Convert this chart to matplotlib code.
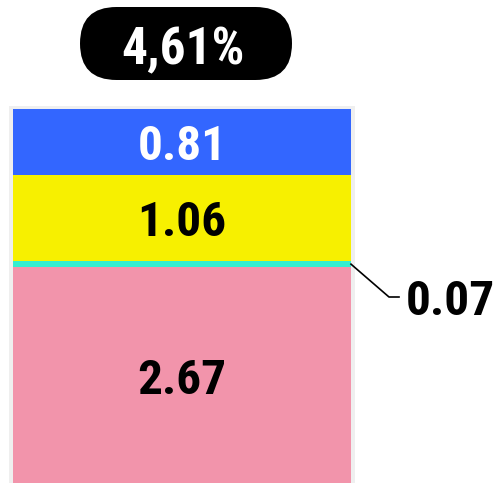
import matplotlib.pyplot as plt
from matplotlib.patches import FancyBboxPatch, Rectangle

# segment values, bottom to top
segments = ['pink', 'cyan', 'yellow', 'blue']
values = [2.67, 0.07, 1.06, 0.81]
colors = ['#f294ab', '#33eed0', '#f7f000', '#3366ff']
label_colors = ['black', None, 'black', 'white']
total_label = '4,61%'
outside_label = '0.07'

plt.rcParams['font.family'] = ['Roboto Condensed', 'DejaVu Sans']
plt.rcParams['font.stretch'] = 'condensed'

W, H = 494, 483
fig = plt.figure(figsize=(W / 100, H / 100), dpi=100)
ax = fig.add_axes([0, 0, 1, 1])
y_top = 5.94
ppu = H / (y_top - 0.025)  # pixels per unit
ax.set_xlim(0, W)
ax.set_ylim(0.025, y_top)
ax.axis('off')


def py(p):
    # pixel row from the top -> data y
    return y_top - p / ppu


x_center, width = 182, 338
total = sum(values)
half_cap = 18 / ppu  # half the digit height, to put labels on a baseline

# soft shadow behind the bar
ax.add_patch(Rectangle((x_center - width / 2 - 4, -0.1), width + 8, total + 0.1 + 3 / ppu,
                       facecolor='#efefef', edgecolor='none', zorder=0))

txt = dict(fontsize=35.5, fontweight='bold')
bottom = 0
for val, col, lc in zip(values, colors, label_colors):
    ax.bar(x_center, val, width=width, bottom=bottom, color=col, zorder=2)
    if lc is not None:
        ax.text(x_center, bottom + val / 2 - half_cap, f'{val:.2f}', color=lc,
                ha='center', va='baseline', zorder=3, **txt)
    bottom += val

# leader line for the thin segment
y_thin = values[0] + values[1] / 2
y_lab = py(297)
ax.plot([x_center + width / 2, 389, 399], [y_thin, y_lab, y_lab],
        color='black', lw=1.2, zorder=3)
ax.text(406, y_lab - half_cap, outside_label, ha='left', va='baseline', **txt)

# pill with the total
ax.add_patch(FancyBboxPatch((80, py(80)), 212, py(7) - py(80),
                            boxstyle='round,pad=0,rounding_size=36.5',
                            mutation_aspect=1 / ppu,
                            facecolor='black', edgecolor='none', zorder=3))
ax.text(183, py(64), total_label, color='white', ha='center', va='baseline',
        zorder=4, fontsize=37, fontweight='bold')

fig.savefig('out.png', dpi=100)
